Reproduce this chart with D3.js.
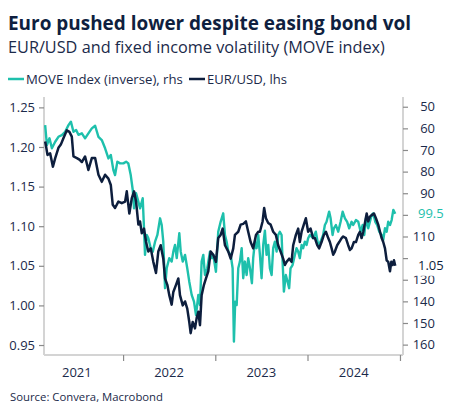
<!DOCTYPE html>
<html>
<head>
<meta charset="utf-8">
<script src="https://cdn.jsdelivr.net/npm/d3@7"></script>
<style>
  html, body { margin: 0; padding: 0; background: #fff; }
  svg { display: block; font-family: "Open Sans", "Noto Sans", sans-serif; }
</style>
</head>
<body>
<svg id="chart" width="454" height="417"></svg>
<script>
// ---------------- DATA ----------------
const titleText = "Euro pushed lower despite easing bond vol";
const subtitleText = "EUR/USD and fixed income volatility (MOVE index)";
const legendLabels = ["MOVE Index (inverse), rhs", "EUR/USD, lhs"];
const sourceText = "Source: Convera, Macrobond";
const yearLabels = [2021, 2022, 2023, 2024];
const leftTicks = [0.95, 1.00, 1.05, 1.10, 1.15, 1.20, 1.25];
const rightTicks = [50, 60, 70, 80, 90, 100, 110, 120, 130, 140, 150, 160];
const rightTicksHidden = [100, 120]; // covered by end-value labels in the reference

// dates as decimal years
const eurDates = [2021.155,2021.166,2021.180,2021.209,2021.239,2021.264,2021.299,2021.325,2021.353,2021.390,2021.418,2021.444,2021.462,2021.499,2021.527,2021.553,2021.588,2021.624,2021.661,2021.697,2021.733,2021.769,2021.805,2021.841,2021.867,2021.888,2021.913,2021.949,2021.986,2022.022,2022.040,2022.068,2022.094,2022.119,2022.141,2022.166,2022.184,2022.203,2022.227,2022.249,2022.274,2022.300,2022.328,2022.357,2022.382,2022.408,2022.436,2022.455,2022.480,2022.501,2022.527,2022.545,2022.574,2022.599,2022.617,2022.647,2022.672,2022.696,2022.718,2022.733,2022.755,2022.780,2022.798,2022.816,2022.834,2022.852,2022.877,2022.899,2022.924,2022.950,2022.978,2023.007,2023.032,2023.058,2023.080,2023.105,2023.141,2023.167,2023.195,2023.213,2023.249,2023.275,2023.303,2023.332,2023.357,2023.383,2023.411,2023.441,2023.466,2023.484,2023.513,2023.530,2023.549,2023.574,2023.600,2023.628,2023.657,2023.682,2023.708,2023.736,2023.755,2023.773,2023.801,2023.827,2023.845,2023.874,2023.899,2023.917,2023.936,2023.960,2023.982,2024.007,2024.033,2024.061,2024.080,2024.105,2024.126,2024.152,2024.177,2024.199,2024.224,2024.242,2024.261,2024.278,2024.296,2024.321,2024.343,2024.369,2024.386,2024.415,2024.440,2024.459,2024.477,2024.502,2024.524,2024.549,2024.567,2024.585,2024.603,2024.621,2024.640,2024.657,2024.675,2024.694,2024.719,2024.740,2024.765,2024.784,2024.802,2024.819,2024.838,2024.856,2024.873,2024.892,2024.906,2024.921,2024.935,2024.949];
const eurValues = [1.207,1.200,1.190,1.192,1.175,1.186,1.199,1.203,1.211,1.221,1.219,1.213,1.188,1.186,1.184,1.181,1.188,1.171,1.186,1.186,1.165,1.156,1.165,1.160,1.152,1.127,1.123,1.131,1.129,1.131,1.144,1.116,1.135,1.144,1.131,1.102,1.106,1.091,1.097,1.080,1.068,1.072,1.055,1.041,1.068,1.076,1.059,1.034,1.026,1.013,1.001,1.017,1.026,1.034,1.013,1.000,1.005,0.996,0.979,0.965,0.979,0.971,0.984,0.992,0.975,1.013,1.026,1.034,1.043,1.068,1.064,1.055,1.085,1.089,1.097,1.076,1.068,1.059,1.072,1.089,1.093,1.102,1.103,1.106,1.093,1.080,1.072,1.089,1.093,1.093,1.106,1.123,1.110,1.104,1.102,1.093,1.089,1.076,1.068,1.059,1.051,1.055,1.059,1.055,1.076,1.089,1.097,1.080,1.093,1.102,1.110,1.093,1.097,1.085,1.085,1.076,1.072,1.080,1.089,1.093,1.085,1.080,1.072,1.064,1.068,1.076,1.080,1.085,1.087,1.085,1.076,1.070,1.072,1.080,1.080,1.089,1.093,1.085,1.093,1.104,1.116,1.106,1.112,1.114,1.116,1.110,1.102,1.093,1.085,1.080,1.072,1.057,1.055,1.043,1.055,1.051,1.057,1.050];

const moveDates = [2021.155,2021.174,2021.202,2021.228,2021.264,2021.299,2021.336,2021.372,2021.408,2021.434,2021.462,2021.491,2021.516,2021.553,2021.588,2021.624,2021.661,2021.697,2021.733,2021.769,2021.805,2021.841,2021.867,2021.895,2021.913,2021.938,2021.968,2022.003,2022.033,2022.057,2022.083,2022.105,2022.119,2022.141,2022.166,2022.184,2022.213,2022.227,2022.238,2022.257,2022.274,2022.300,2022.322,2022.347,2022.372,2022.401,2022.419,2022.436,2022.455,2022.473,2022.501,2022.527,2022.545,2022.563,2022.582,2022.610,2022.625,2022.647,2022.672,2022.696,2022.718,2022.744,2022.769,2022.791,2022.816,2022.834,2022.852,2022.870,2022.888,2022.913,2022.942,2022.961,2022.978,2023.007,2023.032,2023.058,2023.086,2023.105,2023.123,2023.141,2023.167,2023.188,2023.202,2023.216,2023.232,2023.249,2023.267,2023.286,2023.303,2023.321,2023.340,2023.357,2023.376,2023.397,2023.411,2023.430,2023.448,2023.466,2023.484,2023.502,2023.520,2023.538,2023.556,2023.574,2023.592,2023.611,2023.628,2023.646,2023.665,2023.682,2023.700,2023.719,2023.730,2023.744,2023.765,2023.784,2023.801,2023.816,2023.838,2023.863,2023.881,2023.899,2023.917,2023.936,2023.953,2023.971,2023.990,2024.007,2024.025,2024.061,2024.090,2024.115,2024.141,2024.169,2024.188,2024.206,2024.234,2024.250,2024.271,2024.285,2024.307,2024.332,2024.358,2024.380,2024.405,2024.429,2024.451,2024.477,2024.494,2024.524,2024.549,2024.575,2024.596,2024.614,2024.632,2024.657,2024.675,2024.694,2024.711,2024.733,2024.754,2024.776,2024.802,2024.819,2024.838,2024.856,2024.873,2024.892,2024.910,2024.928,2024.949];
const moveValues = [58.5,67.7,64.6,69.2,66.2,63.9,63.1,61.6,58.5,56.9,61.6,60.8,63.0,62.3,64.6,62.3,60.0,58.8,63.9,65.4,69.2,73.9,72.3,79.3,81.6,75.4,76.2,76.2,75.4,76.2,81.6,88.5,97.0,90.0,93.9,97.0,92.3,106.2,118.5,109.3,110.8,115.4,117.0,112.4,109.3,101.6,104.7,112.4,133.9,124.7,120.0,121.6,117.0,113.9,120.0,108.5,117.0,121.6,118.5,124.7,130.9,137.0,140.1,146.3,137.0,141.7,121.6,118.5,127.8,124.7,117.0,120.0,118.5,126.3,107.8,103.2,99.3,109.3,112.4,117.0,118.5,124.7,158.6,140.1,141.7,124.7,121.6,115.4,129.3,121.6,127.8,120.0,124.7,131.6,120.0,112.4,115.4,109.3,118.5,129.3,113.9,107.3,118.5,113.9,124.7,127.8,115.4,112.4,117.0,109.3,107.8,109.3,121.6,135.5,127.8,130.9,133.9,124.7,123.2,118.5,115.4,117.0,120.0,113.9,115.4,112.4,113.9,110.8,109.3,110.8,107.8,113.9,112.4,109.3,104.7,103.2,98.5,101.6,109.3,106.2,104.7,107.8,103.2,98.5,101.6,103.2,106.2,103.2,104.7,102.4,103.2,107.8,104.7,109.3,101.6,106.2,103.2,100.1,99.3,103.2,104.7,107.8,109.3,111.6,106.2,107.8,103.2,104.7,102.4,97.7,99.5];

const xStart = "2021-02-22", xEnd = "2025-01-13";

// ---------------- HELPERS ----------------
function decYear(y) {
  const yr = Math.floor(y);
  const a = new Date(yr, 0, 1), b = new Date(yr + 1, 0, 1);
  return new Date(+a + (y - yr) * (b - a));
}
const parse = d3.timeParse("%Y-%m-%d");

const TEAL = "#1ec0ac";
const NAVY = "#0d1e3d";
const TEXT = "#1b2a4a";
const AXIS = "#d4d4d4";
const TICK = "#8a8a8a";

const svg = d3.select("#chart");

const M = { left: 44, right: 403, top: 97, bottom: 355 };

const x = d3.scaleTime().domain([parse(xStart), parse(xEnd)]).range([M.left, M.right]);
const yL = d3.scaleLinear().domain([0.9374, 1.2631]).range([M.bottom, M.top]);
const yR = d3.scaleLinear().domain([45.5, 164.8]).range([M.top, M.bottom]);

function fit(sel, target) {
  const n = sel.node();
  const w = n.getComputedTextLength();
  const fs = parseFloat(sel.attr("font-size"));
  sel.attr("font-size", (fs * target / w).toFixed(2));
}

// ---------------- TITLES ----------------
svg.append("text").attr("x", 8).attr("y", 30).attr("font-size", 21).attr("font-weight", 700)
  .attr("fill", "#0f1f3f").text(titleText).call(fit, 403);
svg.append("text").attr("x", 8).attr("y", 53).attr("font-size", 16)
  .attr("fill", TEXT).text(subtitleText).call(fit, 377);

// legend
const lg = svg.append("g");
lg.append("line").attr("x1", 8).attr("x2", 24).attr("y1", 79).attr("y2", 79).attr("stroke", TEAL).attr("stroke-width", 2.5);
lg.append("text").attr("x", 26).attr("y", 83.5).attr("font-size", 13).attr("fill", TEXT).text(legendLabels[0]).call(fit, 157);
lg.append("line").attr("x1", 189).attr("x2", 205).attr("y1", 79).attr("y2", 79).attr("stroke", NAVY).attr("stroke-width", 2.5);
lg.append("text").attr("x", 207).attr("y", 83.5).attr("font-size", 13).attr("fill", TEXT).text(legendLabels[1]).call(fit, 80);

// ---------------- AXES ----------------
const axL = svg.append("g").attr("transform", `translate(${M.left},0)`)
  .call(d3.axisLeft(yL).tickValues(leftTicks).tickFormat(d3.format(".2f")).tickSize(5).tickPadding(4));
const axR = svg.append("g").attr("transform", `translate(${M.right},0)`)
  .call(d3.axisRight(yR).tickValues(rightTicks)
    .tickFormat(d => rightTicksHidden.includes(d) ? "" : d3.format("d")(d))
    .tickSize(5).tickPadding(4));
const yearTicks = [2022, 2023, 2024, 2025].map(y => new Date(y, 0, 1));
const axB = svg.append("g").attr("transform", `translate(0,${M.bottom})`)
  .call(d3.axisBottom(x).tickValues(yearTicks).tickFormat("").tickSize(6));

[axL, axR, axB].forEach(a => {
  a.select(".domain").attr("stroke", AXIS).attr("stroke-width", 2);
  a.selectAll(".tick line").attr("stroke", TICK).attr("stroke-width", 1.2);
  a.selectAll(".tick text").attr("fill", TEXT).attr("font-size", 13)
    .attr("font-family", "'Open Sans','Noto Sans',sans-serif");
});
axL.select(".domain").attr("d", `M0,${M.top}V${M.bottom}`);
axR.select(".domain").attr("d", `M0,${M.top}V${M.bottom}`);
axB.select(".domain").attr("d", `M${M.left},0H${M.right}`);
// right labels right-aligned
axR.selectAll(".tick text").attr("text-anchor", "end").attr("x", 32);

// year labels at mid-year
svg.append("g").selectAll("text").data(yearLabels).join("text")
  .attr("x", d => x(new Date(d, 6, 2)))
  .attr("y", 377)
  .attr("text-anchor", "middle").attr("font-size", 13).attr("fill", TEXT)
  .text(d => d);

// ---------------- LINES ----------------
const moveData = moveDates.map((d, i) => ({ d: decYear(d), v: moveValues[i] }));
const eurData = eurDates.map((d, i) => ({ d: decYear(d), v: eurValues[i] }));

svg.append("path").datum(moveData)
  .attr("fill", "none").attr("stroke", TEAL).attr("stroke-width", 2.4).attr("stroke-linejoin", "round")
  .attr("d", d3.line().x(p => x(p.d)).y(p => yR(p.v)));
svg.append("path").datum(eurData)
  .attr("fill", "none").attr("stroke", NAVY).attr("stroke-width", 2.5).attr("stroke-linejoin", "round")
  .attr("d", d3.line().x(p => x(p.d)).y(p => yL(p.v)));

// ---------------- END LABELS ----------------
const lastMove = moveValues[moveValues.length - 1];
const lastEur = eurValues[eurValues.length - 1];
const yMove = yR(lastMove), yEur = yL(lastEur);
svg.append("rect").attr("x", 410).attr("y", yMove - 10).attr("width", 40).attr("height", 20).attr("fill", "#fff");
svg.append("rect").attr("x", 410).attr("y", yEur - 10).attr("width", 40).attr("height", 20).attr("fill", "#fff");
svg.append("text").attr("x", 418).attr("y", yMove + 4.5).attr("font-size", 13).attr("fill", TEAL)
  .text(d3.format(".1f")(lastMove));
svg.append("text").attr("x", 418).attr("y", yEur + 4).attr("font-size", 13).attr("fill", NAVY)
  .text(d3.format(".2f")(lastEur));

// ---------------- SOURCE ----------------
svg.append("text").attr("x", 10).attr("y", 401).attr("font-size", 11).attr("fill", TEXT)
  .text(sourceText).call(fit, 153);
</script>
</body>
</html>
